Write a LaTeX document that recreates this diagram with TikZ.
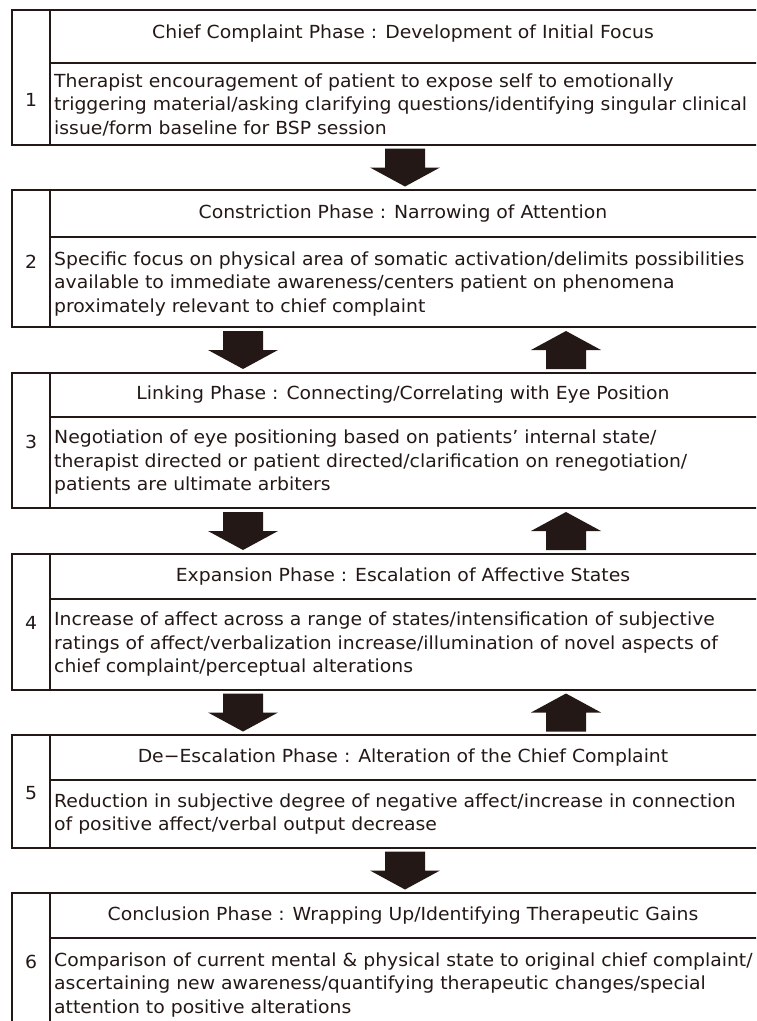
\documentclass[tikz,border=0pt]{standalone}
\usepackage{fontspec}
\setmainfont[FakeStretch=1.045]{DejaVu Sans}
\usepackage{tikz}
\usetikzlibrary{calc}
\definecolor{inkdark}{RGB}{35,24,21}
\newcommand{\phasefont}{\fontsize{18}{23.5}\selectfont}
\tikzset{
  phasebox/.style={draw=inkdark, line width=1.3pt, minimum width=748pt, inner sep=0pt},
  rule/.style={draw=inkdark, line width=1.3pt},
  numlabel/.style={inner sep=0pt, font=\phasefont, text=inkdark},
  headlabel/.style={inner sep=0pt, anchor=base, font=\phasefont, text=inkdark},
  bodylabel/.style={inner sep=0pt, anchor=west, align=left, font=\phasefont, text=inkdark},
  flowdown/.pic={\fill[inkdark] (-20,-19) -- (20,-19) -- (20,0) -- (35,0) -- (0,19) -- (-35,0) -- (-20,0) -- cycle;},
  flowup/.pic={\fill[inkdark] (0,-19) -- (35,0) -- (20,0) -- (20,19) -- (-20,19) -- (-20,0) -- (-35,0) -- cycle;}
}

\begin{document}
\begin{tikzpicture}[x=1pt, y=-1pt]
  \useasboundingbox (0,0) rectangle (756,1021);
  \clip (0,0) rectangle (756,1021);

  % the six phases
  \node[phasebox, minimum height=135pt] (p1) at (386,77.5) {};
  \node[phasebox, minimum height=137pt] (p2) at (386,258.5) {};
  \node[phasebox, minimum height=135pt] (p3) at (386,440.5) {};
  \node[phasebox, minimum height=136pt] (p4) at (386,622) {};
  \node[phasebox, minimum height=113pt] (p5) at (386,791.5) {};
  \node[phasebox, minimum height=138pt] (p6) at (386,962) {};

  \foreach \b/\s in {p1/63, p2/237, p3/417, p4/599, p5/780, p6/938} {
    \draw[rule] (\b.north west -| 50,0) -- (\b.south west -| 50,0);
    \draw[rule] (50,\s) -- (\b.east |- 0,\s);
  }

  \node[numlabel] (n1) at (31,100) {1};
  \node[numlabel] (n2) at (31,262) {2};
  \node[numlabel] (n3) at (31,442) {3};
  \node[numlabel] (n4) at (31,623) {4};
  \node[numlabel] (n5) at (31,793) {5};
  \node[numlabel] (n6) at (31,962) {6};

  \node[headlabel] (h1) at (403,38) {Chief Complaint Phase : Development of Initial Focus};
  \node[headlabel] (h2) at (403,218) {Constriction Phase : Narrowing of Attention};
  \node[headlabel] (h3) at (403,399.5) {Linking Phase : Connecting/Correlating with Eye Position};
  \node[headlabel] (h4) at (403,581) {Expansion Phase : Escalation of Affective States};
  \node[headlabel] (h5) at (403,762) {De−Escalation Phase : Alteration of the Chief Complaint};
  \node[headlabel] (h6) at (403,920) {Conclusion Phase : Wrapping Up/Identifying Therapeutic Gains};

  \node[bodylabel] (t1) at (54,104.5) {Therapist encouragement of patient to expose self to emotionally\\
    triggering material/asking clarifying questions/identifying singular clinical\\
    issue/form baseline for BSP session};
  \node[bodylabel] (t2) at (54,284) {Specific focus on physical area of somatic activation/delimits possibilities\\
    available to immediate awareness/centers patient on phenomena\\
    proximately relevant to chief complaint};
  \node[bodylabel] (t3) at (54,462.5) {Negotiation of eye positioning based on patients’ internal state/\\
    therapist directed or patient directed/clarification on renegotiation/\\
    patients are ultimate arbiters};
  \node[bodylabel] (t4) at (54,644.5) {Increase of affect across a range of states/intensification of subjective\\
    ratings of affect/verbalization increase/illumination of novel aspects of\\
    chief complaint/perceptual alterations};
  \node[bodylabel] (t5) at (54,814) {Reduction in subjective degree of negative affect/increase in connection\\
    of positive affect/verbal output decrease};
  \node[bodylabel] (t6) at (54,985) {Comparison of current mental \& physical state to original chief complaint/\\
    ascertaining new awareness/quantifying therapeutic changes/special\\
    attention to positive alterations};

  % arrows between the phases
  \pic at ($(p1.south)!.5!(p2.north)+(19,0)$) {flowdown};
  \pic at ($(p2.south)!.5!(p3.north)+(-143,0)$) {flowdown};
  \pic at ($(p2.south)!.5!(p3.north)+(180,0)$) {flowup};
  \pic at ($(p3.south)!.5!(p4.north)+(-143,0)$) {flowdown};
  \pic at ($(p3.south)!.5!(p4.north)+(180,0)$) {flowup};
  \pic at ($(p4.south)!.5!(p5.north)+(-143,0)$) {flowdown};
  \pic at ($(p4.south)!.5!(p5.north)+(180,0)$) {flowup};
  \pic at ($(p5.south)!.5!(p6.north)+(19,0)$) {flowdown};
\end{tikzpicture}
\end{document}
